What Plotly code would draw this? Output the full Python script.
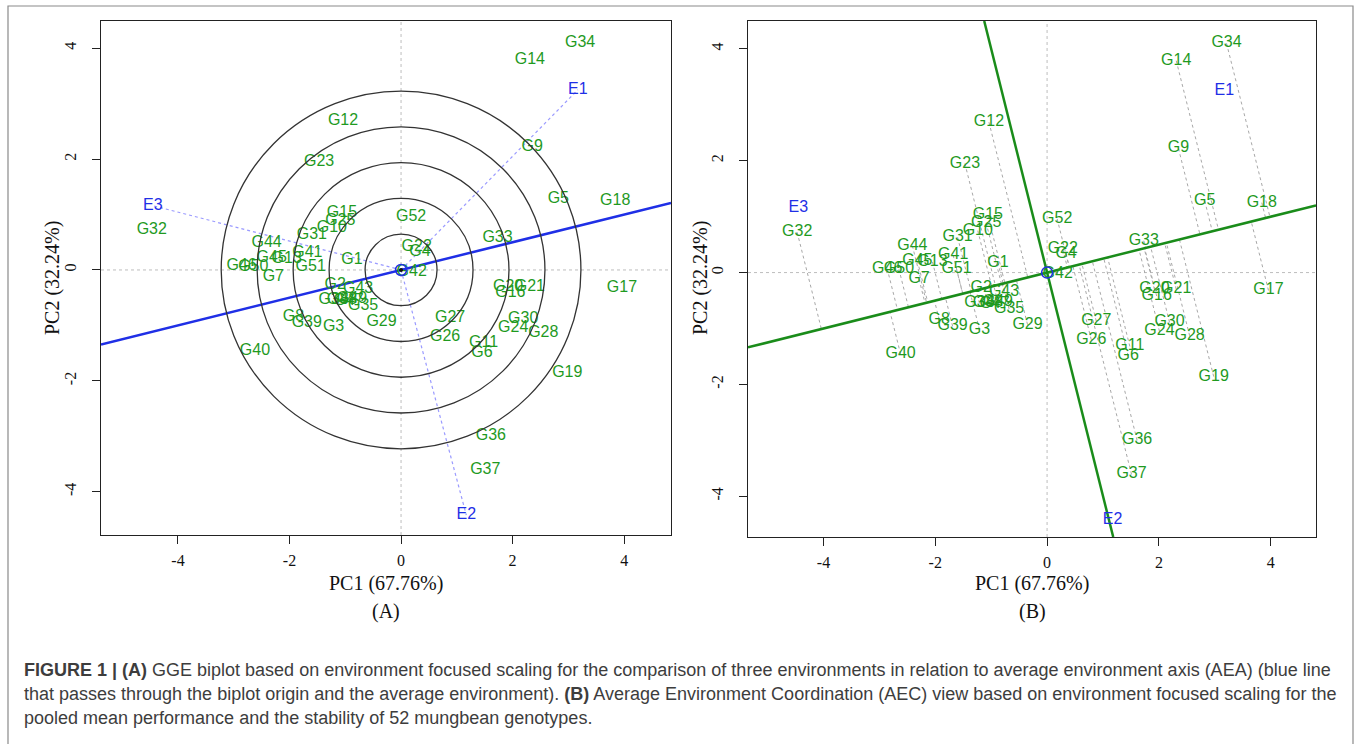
import plotly.graph_objects as go

# ---------------- data ----------------
genotypes = ["G1", "G2", "G3", "G4", "G5", "G6", "G7", "G8", "G9", "G10",
             "G11", "G12", "G13", "G14", "G15", "G16", "G17", "G18", "G19", "G20",
             "G21", "G22", "G23", "G24", "G25", "G26", "G27", "G28", "G29", "G30",
             "G31", "G32", "G33", "G34", "G35", "G36", "G37", "G38", "G39", "G40",
             "G41", "G42", "G43", "G44", "G45", "G46", "G47", "G48", "G49", "G50",
             "G51", "G52"]
gen_pc1 = [-0.88, -1.18, -1.21, 0.34, 2.82, 1.45, -2.29, -1.93, 2.35, -1.24,
           1.48, -1.04, -2.05, 2.31, -1.06, 1.96, 3.96, 3.84, 2.98, 1.92,
           2.31, 0.28, -1.47, 2.01, -1.09, 0.79, 0.88, 2.55, -0.35, 2.19,
           -1.60, -4.47, 1.73, 3.21, -0.68, 1.61, 1.51, -1.21, -1.69, -2.62,
           -1.68, 0.19, -0.77, -2.41, -2.32, -2.86, -0.94, -1.06, -0.88, -2.65,
           -1.62, 0.18]
gen_pc2 = [0.18, -0.27, -1.02, 0.33, 1.28, -1.49, -0.12, -0.84, 2.22, 0.75,
           -1.32, 2.69, 0.19, 3.79, 1.03, -0.42, -0.32, 1.25, -1.86, -0.30,
           -0.30, 0.42, 1.95, -1.05, 0.89, -1.20, -0.87, -1.13, -0.93, -0.89,
           0.63, 0.72, 0.57, 4.10, -0.65, -3.00, -3.61, -0.55, -0.96, -1.46,
           0.31, -0.03, -0.35, 0.48, 0.21, 0.07, -0.56, -0.54, -0.53, 0.06,
           0.06, 0.96]

environments = ["E1", "E2", "E3"]
env_pc1 = [3.17, 1.17, -4.45]
env_pc2 = [3.25, -4.42, 1.16]

aea_slope = 0.25                       # slope of the average environment axis
circle_radii = [0.645, 1.29, 1.935, 2.58, 3.225]

tick_vals = [-4, -2, 0, 2, 4]
tick_text = ["-4", "-2", "0", "2", "4"]

x_title = "PC1 (67.76%)"
y_title = "PC2 (32.24%)"
panel_tags = ["(A)", "(B)"]

caption_lines = [
    "<b>FIGURE 1 | (A)</b> GGE biplot based on environment focused scaling for the comparison of three environments in relation to average environment axis (AEA) (blue line",
    "that passes through the biplot origin and the average environment). <b>(B)</b> Average Environment Coordination (AEC) view based on environment focused scaling for the",
    "pooled mean performance and the stability of 52 mungbean genotypes.",
]

# ---------------- styling ----------------
W, H = 1360, 744
GREEN_TXT = "#1f9a1f"
GREEN_LINE = "#1a8c1a"
BLUE = "#1f2fe6"
SERIF = "Liberation Serif, Times New Roman, serif"
SANS = "Liberation Sans, Arial, sans-serif"
CAP_FONT = "Liberation Sans, Arial, sans-serif"

left_box = dict(x0=101, x1=671, y0=21, y1=535)
right_box = dict(x0=748, x1=1316, y0=21, y1=537)
left_xr, left_yr = [-5.38, 4.84], [-4.78, 4.49]
right_xr, right_yr = [-5.35, 4.81], [-4.73, 4.50]

fig = go.Figure()

def add_line(xs, ys, ax, color, width, dash="solid"):
    fig.add_trace(go.Scatter(x=xs, y=ys, mode="lines", xaxis=ax[0], yaxis=ax[1],
                             line=dict(color=color, width=width, dash=dash),
                             hoverinfo="skip", showlegend=False))

for ax, xr, yr in [(("x", "y"), left_xr, left_yr), (("x2", "y2"), right_xr, right_yr)]:
    add_line([xr[0], xr[1]], [0, 0], ax, "#bdbdbd", 1, "dot")
    add_line([0, 0], [yr[0], yr[1]], ax, "#bdbdbd", 1, "dot")

# ---- Panel A ----
ex, ey = [], []
for x, y in zip(env_pc1, env_pc2):
    ex += [0, x, None]
    ey += [0, y, None]
add_line(ex, ey, ("x", "y"), "#9a9aff", 1.2, "dot")
for r in circle_radii:
    fig.add_shape(type="circle", xref="x", yref="y", x0=-r, x1=r, y0=-r, y1=r,
                  line=dict(color="#333333", width=1.3), layer="above")
add_line([left_xr[0], left_xr[1]], [aea_slope * left_xr[0], aea_slope * left_xr[1]],
         ("x", "y"), BLUE, 2.5)

# ---- Panel B ----
s = aea_slope
px_, py_ = [], []
for x, y in zip(gen_pc1, gen_pc2):
    t = (x + s * y) / (1 + s * s)
    px_ += [x, t, None]
    py_ += [y, t * s, None]
add_line(px_, py_, ("x2", "y2"), "#a8a8a8", 1, "dot")
add_line([right_xr[0], right_xr[1]], [s * right_xr[0], s * right_xr[1]],
         ("x2", "y2"), GREEN_LINE, 2.5)
add_line([-s * right_yr[0], -s * right_yr[1]], [right_yr[0], right_yr[1]],
         ("x2", "y2"), GREEN_LINE, 2.5)

for ax in [("x", "y"), ("x2", "y2")]:
    fig.add_trace(go.Scatter(x=gen_pc1, y=gen_pc2, text=genotypes, mode="text",
                             xaxis=ax[0], yaxis=ax[1], textposition="middle center",
                             textfont=dict(family=SANS, size=16, color=GREEN_TXT),
                             hoverinfo="skip", showlegend=False, cliponaxis=False))
    fig.add_trace(go.Scatter(x=env_pc1, y=env_pc2, text=environments, mode="text",
                             xaxis=ax[0], yaxis=ax[1], textposition="middle center",
                             textfont=dict(family=SANS, size=16, color=BLUE),
                             hoverinfo="skip", showlegend=False, cliponaxis=False))
    fig.add_trace(go.Scatter(x=[0], y=[0], mode="markers", xaxis=ax[0], yaxis=ax[1],
                             marker=dict(symbol="circle-open", size=11, color=BLUE,
                                         line=dict(color=BLUE, width=1.5)),
                             hoverinfo="skip", showlegend=False))
fig.add_trace(go.Scatter(x=[0], y=[0], mode="markers", xaxis="x", yaxis="y",
                         marker=dict(symbol="circle", size=4, color="#111111"),
                         hoverinfo="skip", showlegend=False))

def axis_common(rng, domain, angle, standoff):
    return dict(range=rng, domain=domain, showgrid=False, zeroline=False,
                showline=True, mirror=True, linecolor="#222222", linewidth=1,
                ticks="outside", ticklen=8, tickcolor="#222222",
                tickvals=tick_vals, ticktext=tick_text, tickangle=angle,
                ticklabelstandoff=standoff,
                tickfont=dict(family=SERIF, size=16, color="#111111"))

def xdom(b):
    return [b["x0"] / W, b["x1"] / W]

def ydom(b):
    return [(H - b["y1"]) / H, (H - b["y0"]) / H]

fig.update_layout(
    width=W, height=H, margin=dict(l=0, r=0, t=0, b=0),
    paper_bgcolor="white", plot_bgcolor="white", showlegend=False,
    xaxis=axis_common(left_xr, xdom(left_box), 0, 3) | dict(anchor="y"),
    yaxis=axis_common(left_yr, ydom(left_box), -90, 10) | dict(anchor="x"),
    xaxis2=axis_common(right_xr, xdom(right_box), 0, 3) | dict(anchor="y2"),
    yaxis2=axis_common(right_yr, ydom(right_box), -90, 10) | dict(anchor="x2"),
)

ann = []
for b, tag in [(left_box, panel_tags[0]), (right_box, panel_tags[1])]:
    cx = (b["x0"] + b["x1"]) / 2 / W
    ann.append(dict(text=x_title, x=cx, y=(H - 583) / H, xref="paper", yref="paper",
                    showarrow=False, xanchor="center", yanchor="middle",
                    font=dict(family=SERIF, size=20, color="#111111")))
    ann.append(dict(text=tag, x=cx, y=(H - 611) / H, xref="paper", yref="paper",
                    showarrow=False, xanchor="center", yanchor="middle",
                    font=dict(family=SERIF, size=20, color="#111111")))
for xpix in [52, 700]:
    ann.append(dict(text=y_title, x=xpix / W, y=(H - 278) / H, xref="paper", yref="paper",
                    showarrow=False, xanchor="center", yanchor="middle", textangle=-90,
                    font=dict(family=SERIF, size=20, color="#111111")))
for i, line in enumerate(caption_lines):
    ann.append(dict(text=line, x=22 / W, y=(H - (670 + 24 * i)) / H, xref="paper",
                    yref="paper", showarrow=False, xanchor="left", yanchor="middle",
                    font=dict(family=CAP_FONT, size=18, color="#3d3d3d")))
fig.update_layout(annotations=ann)

fig.add_shape(type="rect", xref="paper", yref="paper", x0=8 / W, x1=1353 / W,
              y0=-0.02, y1=(H - 6) / H, line=dict(color="#8a8a8a", width=1.2),
              layer="above")

fig.write_html("out.html", config={"displayModeBar": False},
               post_script="document.body.style.margin='0px';")
